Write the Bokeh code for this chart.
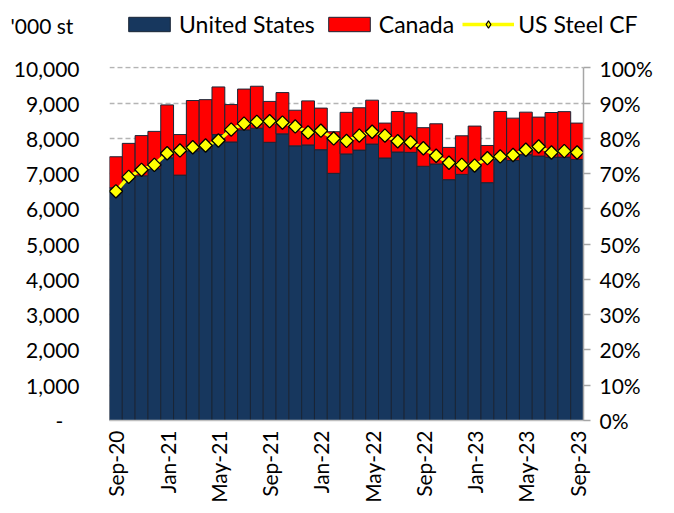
import math
from bokeh.plotting import figure
from bokeh.layouts import column
from bokeh.models import (ColumnDataSource, Range1d, LinearAxis, FixedTicker,
                          NumeralTickFormatter, PrintfTickFormatter, Legend,
                          LegendItem, Label)
from bokeh.embed import file_html
from bokeh.resources import INLINE

months = ["Sep-20", "Oct-20", "Nov-20", "Dec-20", "Jan-21", "Feb-21", "Mar-21",
          "Apr-21", "May-21", "Jun-21", "Jul-21", "Aug-21", "Sep-21", "Oct-21",
          "Nov-21", "Dec-21", "Jan-22", "Feb-22", "Mar-22", "Apr-22", "May-22",
          "Jun-22", "Jul-22", "Aug-22", "Sep-22", "Oct-22", "Nov-22", "Dec-22",
          "Jan-23", "Feb-23", "Mar-23", "Apr-23", "May-23", "Jun-23", "Jul-23",
          "Aug-23", "Sep-23"]

us = [6600, 6850, 6940, 7140, 7450, 6960, 7650, 7720, 8110, 7900, 8240, 8290,
      7890, 8130, 7790, 7815, 7680, 7010, 7560, 7670, 7840, 7445, 7615, 7605,
      7210, 7275, 6830, 6980, 7190, 6745, 7415, 7375, 7540, 7500, 7470, 7470,
      7405]

canada = [880, 1010, 1140, 1060, 1500, 1150, 1425, 1380, 1350, 1060, 1160, 1190,
          1160, 1170, 1010, 1250, 1180, 1180, 1180, 1200, 1245, 990, 1150, 1120,
          1095, 1140, 915, 1095, 1160, 1055, 1350, 1200, 1205, 1105, 1265, 1290,
          1030]

us_steel_cf = [65.0, 69.1, 71.1, 72.5, 75.8, 76.6, 77.5, 78.0, 79.4, 82.5, 84.2,
               84.7, 84.9, 84.5, 83.4, 81.7, 82.2, 80.0, 79.3, 80.8, 81.9, 80.8,
               79.2, 78.9, 77.2, 75.1, 73.1, 72.5, 72.3, 74.4, 74.9, 75.3, 76.8,
               77.7, 76.0, 76.4, 76.0]

left_ticks = [0, 1000, 2000, 3000, 4000, 5000, 6000, 7000, 8000, 9000, 10000]
right_ticks = [0, 10, 20, 30, 40, 50, 60, 70, 80, 90, 100]
label_step = 4
unit_label = "'000 st"
series_names = ["United States", "Canada", "US Steel CF"]

FONT = "Lato"
NAVY = "#17375E"
RED = "#FF0000"
YELLOW = "#FFFF00"
EDGE = "#1A2536"
AXIS_GRAY = "#A6A6A6"

xs = list(range(len(months)))
src = ColumnDataSource(dict(x=xs, us=us, canada=canada, cf=us_steel_cf))

FW, FH = 474, 354
HEAD = 55
TOP, BOTTOM, LEFT, RIGHT = 11, 85, 109, 83
TOTAL_W = LEFT + FW + RIGHT
HEADROOM = 1.004  # lets the top dashed gridline show fully


def no_frame_align(fig):
    try:
        fig.frame_align = False
    except Exception:
        pass


# ---------------- header (legend strip) ----------------
# Its y-range lies far above the data, so the proxy renderers that feed the
# legend swatches draw nothing visible.
h = figure(width=TOTAL_W, height=HEAD, min_border=0,
           x_range=Range1d(-0.5, len(months) - 0.5),
           y_range=Range1d(1e6, 2e6),
           x_axis_location=None, y_axis_location=None,
           output_backend="svg", toolbar_location=None)
no_frame_align(h)
h.outline_line_color = None
h.xgrid.visible = False
h.ygrid.visible = False
h_bars = h.vbar_stack(["us", "canada"], x="x", width=1.0, source=src,
                      fill_color=[NAVY, RED], line_color=EDGE, line_width=1)
h_ln = h.line("x", "cf", source=src, line_color=YELLOW, line_width=3.5)
h_mk = h.scatter("x", "cf", source=src, marker="diamond", size=13,
                 fill_color=YELLOW, line_color="black", line_width=1.2)
legend = Legend(items=[LegendItem(label=series_names[0], renderers=[h_bars[0]]),
                       LegendItem(label=series_names[1], renderers=[h_bars[1]]),
                       LegendItem(label=series_names[2], renderers=[h_ln, h_mk])],
                orientation="horizontal", location=(123, HEAD - 38),
                glyph_width=52, glyph_height=18, label_standoff=4, spacing=8,
                padding=0, margin=0, border_line_alpha=0,
                background_fill_alpha=0, label_text_font=FONT,
                label_text_font_size="23px", label_text_color="black")
h.add_layout(legend, "center")
h.add_layout(Label(x=10, y=HEAD - 25, x_units="screen", y_units="screen",
                   text=unit_label, text_font=FONT, text_font_size="21px",
                   text_baseline="middle", text_color="black"))

# ---------------- main chart ----------------
p = figure(frame_width=FW, frame_height=FH,
           min_border_left=LEFT, min_border_right=RIGHT,
           min_border_top=TOP, min_border_bottom=BOTTOM,
           x_range=Range1d(-0.5, len(months) - 0.5),
           y_range=Range1d(left_ticks[0], left_ticks[-1] * HEADROOM),
           output_backend="svg", toolbar_location=None)
no_frame_align(p)
p.outline_line_color = None
p.background_fill_color = "white"
p.border_fill_color = "white"

p.xgrid.visible = False
p.ygrid.ticker = FixedTicker(ticks=left_ticks)
p.ygrid.grid_line_color = "#B4B4B4"
p.ygrid.grid_line_dash = "5 3"
p.ygrid.grid_line_width = 1.5

bars = p.vbar_stack(["us", "canada"], x="x", width=1.0, source=src,
                    fill_color=[NAVY, RED], line_color=EDGE, line_width=1)

p.extra_y_ranges = {"pct": Range1d(right_ticks[0], right_ticks[-1] * HEADROOM)}
rax = LinearAxis(y_range_name="pct", ticker=FixedTicker(ticks=right_ticks),
                 formatter=PrintfTickFormatter(format="%d%%"),
                 bounds=(right_ticks[0], right_ticks[-1]))
rax.axis_line_color = AXIS_GRAY
rax.axis_line_width = 1.5
rax.major_tick_line_color = AXIS_GRAY
rax.major_tick_line_width = 1.5
rax.major_tick_in = 0
rax.major_tick_out = 7
rax.minor_tick_line_color = None
rax.major_label_standoff = 9
rax.major_label_text_font = FONT
rax.major_label_text_font_size = "21px"
rax.major_label_text_color = "black"
p.add_layout(rax, "right")

ln = p.line("x", "cf", source=src, y_range_name="pct", line_color=YELLOW,
            line_width=3.5)
mk = p.scatter("x", "cf", source=src, y_range_name="pct", marker="square",
               angle=math.pi / 4, size=9.5, fill_color=YELLOW,
               line_color="black", line_width=1.3)

yax = p.yaxis[0]
yax.ticker = FixedTicker(ticks=left_ticks)
yax.formatter = NumeralTickFormatter(format="0,0")
yax.major_label_overrides = {0: "-\u00a0\u00a0\u00a0"}
yax.axis_line_color = None
yax.major_tick_line_color = None
yax.minor_tick_line_color = None
yax.major_tick_in = 0
yax.major_tick_out = 0
yax.major_label_standoff = 30
yax.major_label_text_font = FONT
yax.major_label_text_font_size = "21px"
yax.major_label_text_color = "black"

xax = p.xaxis[0]
xticks = xs[::label_step]
xax.ticker = FixedTicker(ticks=xticks)
xax.major_label_overrides = {i: months[i] for i in xticks}
xax.major_label_orientation = math.pi / 2
xax.axis_line_color = "#BFBFBF"
xax.axis_line_width = 1.5
xax.major_tick_line_color = None
xax.minor_tick_line_color = None
xax.major_tick_in = 0
xax.major_tick_out = 0
xax.major_label_standoff = 10
xax.major_label_text_font = FONT
xax.major_label_text_font_size = "21px"
xax.major_label_text_color = "black"

layout = column(h, p, spacing=0)
open("out.html", "w").write(file_html(layout, INLINE))
